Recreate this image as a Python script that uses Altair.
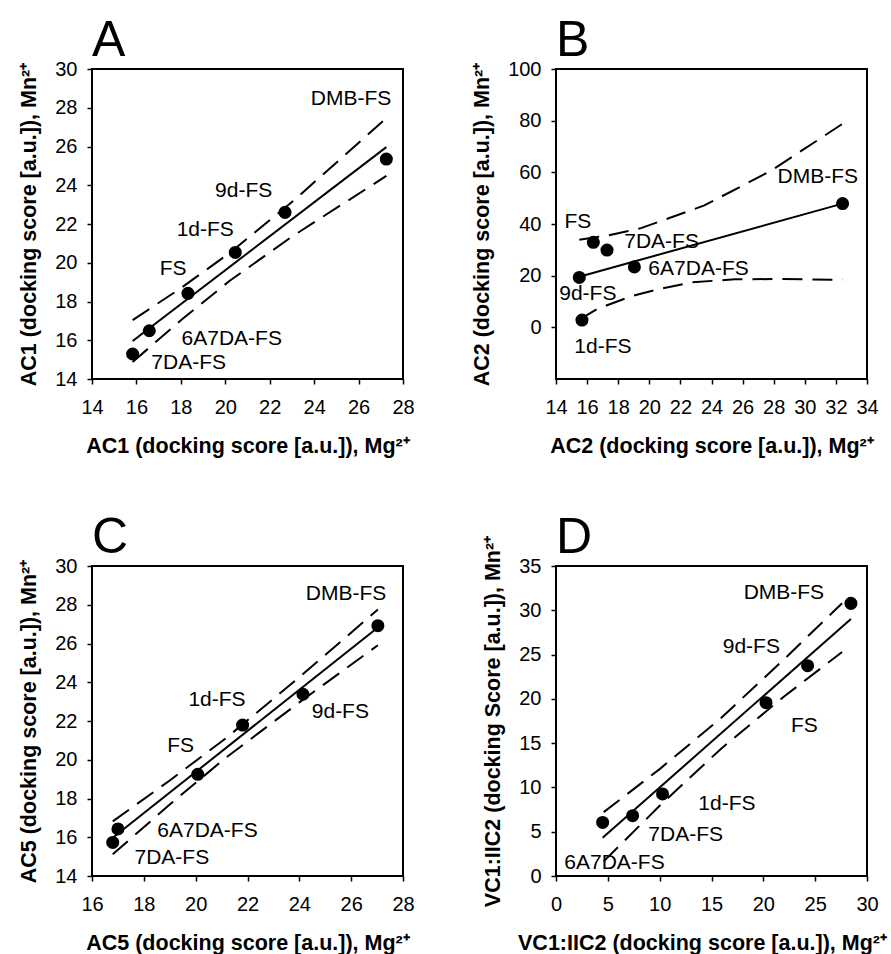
import altair as alt
import pandas as pd

FONT = "Liberation Sans"
names = ["7DA-FS", "6A7DA-FS", "FS", "1d-FS", "9d-FS", "DMB-FS"]

# ---------- Panel A (AC1) ----------
a_mg = [15.83, 16.58, 18.32, 20.45, 22.69, 27.25]
a_mn = [15.29, 16.49, 18.42, 20.53, 22.60, 25.35]
a_lab_x = [16.67, 18.03, 17.05, 17.81, 19.54, 23.85]
a_lab_y = [14.85, 16.06, 19.67, 21.69, 23.72, 28.45]
a_fit_x = [15.83, 27.25]
a_fit_y = [15.96, 25.97]
a_up_x = [15.83, 18.0, 20.2, 23.0, 27.25]
a_up_y = [17.04, 18.69, 20.51, 23.13, 27.46]
a_lo_x = [15.83, 18.0, 20.2, 23.0, 27.25]
a_lo_y = [14.88, 17.03, 19.07, 21.35, 24.48]

# ---------- Panel B (AC2) ----------
b_mg = [17.28, 19.04, 16.40, 15.67, 15.50, 32.43]
b_mn = [29.9, 23.4, 32.9, 2.8, 19.3, 47.9]
b_lab_x = [18.39, 19.94, 14.54, 15.18, 14.21, 28.25]
b_lab_y = [32.9, 22.5, 40.66, -7.6, 12.96, 58.1]
b_fit_x = [15.5, 32.43]
b_fit_y = [19.6, 47.9]
b_up_x = [15.5, 17.4, 18.5, 19.47, 23.54, 27.83, 32.43]
b_up_y = [33.9, 35.6, 37.1, 38.4, 47.2, 60.6, 78.8]
b_lo_x = [15.5, 16.68, 18.82, 20.5, 22.7, 25.5, 28.5, 32.43]
b_lo_y = [3.0, 7.2, 12.0, 14.6, 17.4, 18.6, 18.7, 18.4]

# ---------- Panel C (AC5) ----------
c_mg = [16.80, 17.00, 20.08, 21.81, 24.14, 27.03]
c_mn = [15.73, 16.43, 19.25, 21.79, 23.38, 26.92]
c_lab_x = [17.64, 18.52, 18.90, 19.72, 24.48, 24.25]
c_lab_y = [14.95, 16.32, 20.71, 23.07, 22.46, 28.54]
c_fit_x = [16.8, 27.03]
c_fit_y = [15.97, 26.83]
c_up_x = [16.8, 19.0, 21.14, 24.0, 27.03]
c_up_y = [16.82, 18.93, 21.08, 24.26, 27.75]
c_lo_x = [16.8, 19.0, 21.14, 24.0, 27.03]
c_lo_y = [15.12, 17.69, 20.08, 22.96, 25.91]

# ---------- Panel D (VC1:IIC2) ----------
d_mg = [7.39, 4.50, 20.26, 10.28, 24.27, 28.45]
d_mn = [6.81, 6.05, 19.57, 9.26, 23.74, 30.78]
d_lab_x = [8.91, 0.80, 22.67, 13.73, 16.08, 18.10]
d_lab_y = [4.63, 1.50, 16.93, 8.09, 25.89, 31.99]
d_fit_x = [4.5, 28.45]
d_fit_y = [4.33, 29.02]
d_up_x = [4.6, 10.0, 15.9, 22.0, 27.6]
d_up_y = [7.21, 12.07, 17.81, 24.47, 30.8]
d_lo_x = [4.6, 10.0, 15.9, 22.0, 27.6]
d_lo_y = [1.65, 7.93, 14.35, 20.27, 25.29]

SUP = "\u00b2\u207a"


def panel(letter, mg, mn, lab_x, lab_y, fit_x, fit_y, up_x, up_y, lo_x, lo_y,
          xdom, ydom, xticks, yticks, xtitle, ytitle, xtitle_x=None):
    pts = pd.DataFrame({"x": mg, "y": mn, "name": names})
    labs = pd.DataFrame({"x": lab_x, "y": lab_y, "name": names})
    fit = pd.DataFrame({"x": fit_x, "y": fit_y})
    bands = pd.concat([
        pd.DataFrame({"x": up_x, "y": up_y, "band": "upper"}),
        pd.DataFrame({"x": lo_x, "y": lo_y, "band": "lower"}),
    ])
    xaxis_kw = dict(values=xticks, title=xtitle)
    if xtitle_x is not None:
        xaxis_kw["titleX"] = xtitle_x

    def enc():
        return dict(
            x=alt.X("x:Q", scale=alt.Scale(domain=xdom, nice=False, zero=False),
                    axis=alt.Axis(**xaxis_kw)),
            y=alt.Y("y:Q", scale=alt.Scale(domain=ydom, nice=False, zero=False),
                    axis=alt.Axis(values=yticks, title=ytitle)),
        )

    band_layer = alt.Chart(bands).mark_line(
        color="black", strokeWidth=2, strokeDash=[20, 10]
    ).encode(detail="band:N", **enc())
    fit_layer = alt.Chart(fit).mark_line(color="black", strokeWidth=2).encode(**enc())
    pt_layer = alt.Chart(pts).mark_circle(size=170, color="black", opacity=1).encode(**enc())
    txt_layer = alt.Chart(labs).mark_text(
        align="left", baseline="middle", font=FONT, fontSize=21, color="black"
    ).encode(text="name:N", **enc())
    letter_layer = alt.Chart(pd.DataFrame({"t": [letter]})).mark_text(
        align="left", baseline="alphabetic", font=FONT, fontSize=50, color="black"
    ).encode(x=alt.value(0), y=alt.value(-13), text="t:N")
    return alt.layer(band_layer, fit_layer, pt_layer, txt_layer, letter_layer).properties(
        width=311, height=310
    )


pa = panel("A", a_mg, a_mn, a_lab_x, a_lab_y, a_fit_x, a_fit_y, a_up_x, a_up_y, a_lo_x, a_lo_y,
           [14, 28], [14, 30], list(range(14, 29, 2)), list(range(14, 31, 2)),
           "AC1 (docking score [a.u.]), Mg" + SUP, "AC1 (docking score [a.u.]), Mn" + SUP)
pb = panel("B", b_mg, b_mn, b_lab_x, b_lab_y, b_fit_x, b_fit_y, b_up_x, b_up_y, b_lo_x, b_lo_y,
           [14, 34], [-20, 100], list(range(14, 35, 2)), list(range(0, 101, 20)),
           "AC2 (docking score [a.u.]), Mg" + SUP, "AC2 (docking score [a.u.]), Mn" + SUP)
pc = panel("C", c_mg, c_mn, c_lab_x, c_lab_y, c_fit_x, c_fit_y, c_up_x, c_up_y, c_lo_x, c_lo_y,
           [16, 28], [14, 30], list(range(16, 29, 2)), list(range(14, 31, 2)),
           "AC5 (docking score [a.u.]), Mg" + SUP, "AC5 (docking score [a.u.]), Mn" + SUP)
pd_ = panel("D", d_mg, d_mn, d_lab_x, d_lab_y, d_fit_x, d_fit_y, d_up_x, d_up_y, d_lo_x, d_lo_y,
            [0, 30], [0, 35], list(range(0, 31, 5)), list(range(0, 36, 5)),
            "VC1:IIC2 (docking score [a.u.]), Mg" + SUP, "VC1:IIC2 (docking Score [a.u.]), Mn" + SUP,
            xtitle_x=146)

chart = alt.concat(
    pa, pb, pc, pd_, columns=2, spacing={"row": 187, "column": 153}, bounds="flush"
).properties(
    padding={"left": 17, "top": 15, "right": 0, "bottom": 0}
).configure(
    font=FONT, background="white"
).configure_axis(
    labelFont=FONT, labelFontSize=20, labelColor="black",
    titleFont=FONT, titleFontSize=21.5, titleFontWeight="bold", titleColor="black",
    tickColor="black", tickSize=5, tickWidth=1.5,
    domain=False, grid=False, labelOverlap=False, labelBound=False, labelFlush=False,
).configure_axisX(
    labelPadding=13, titlePadding=18,
).configure_axisY(
    labelPadding=10, titlePadding=14,
).configure_view(
    stroke="black", strokeWidth=2
)

chart.save("out.html", embed_options={"renderer": "svg", "actions": False})
